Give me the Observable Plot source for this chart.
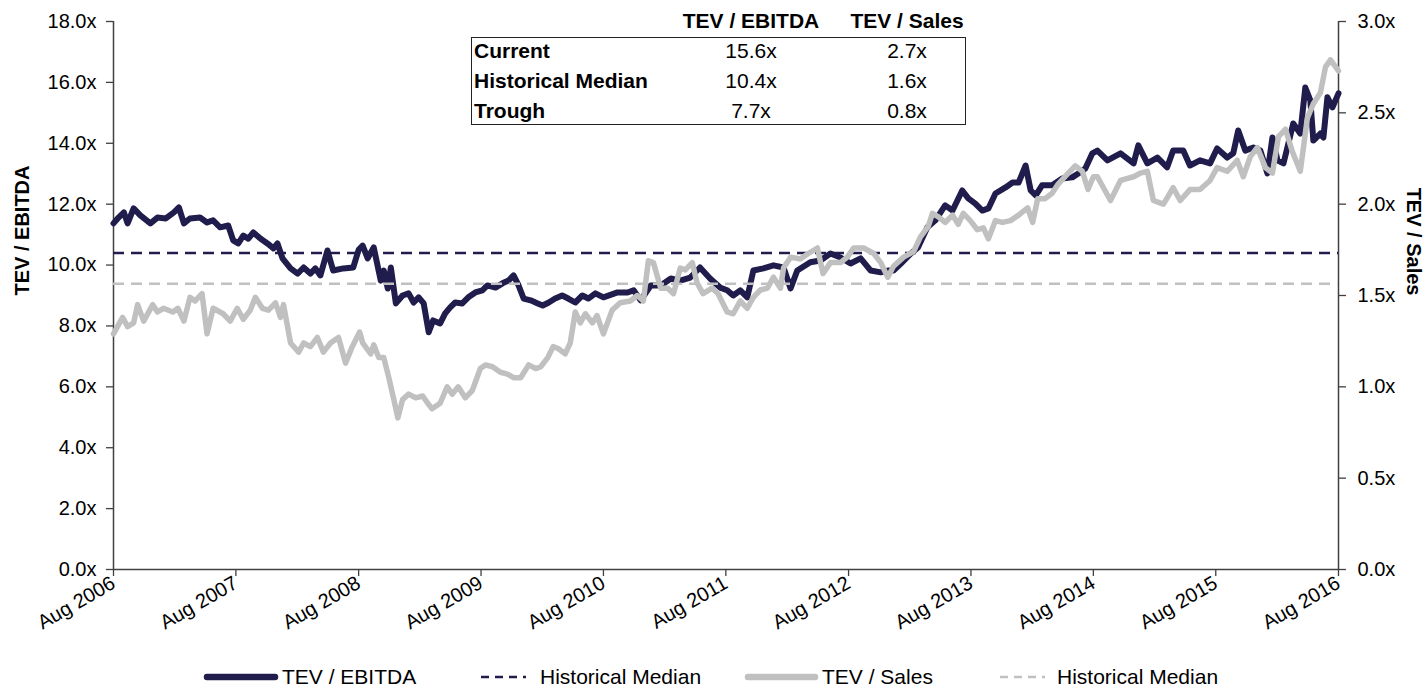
<!DOCTYPE html>
<html><head><meta charset="utf-8">
<script src="https://cdn.jsdelivr.net/npm/d3@7"></script>
<script src="https://cdn.jsdelivr.net/npm/@observablehq/plot@0.6"></script>
<style>
body{margin:0;background:#fff;font-family:"Liberation Sans",Arial,sans-serif;}
#wrap{position:relative;width:1428px;height:688px;overflow:hidden;}
.abs{position:absolute;white-space:nowrap;color:#000;}
.tbl{font-size:21px;line-height:24px;}
.leg{font-size:21px;line-height:24px;}
</style></head><body><div id="wrap"></div>
<script>
const ebitda = [
["2006-08-01",11.37],["2006-08-16",11.56],["2006-09-01",11.73],["2006-09-12",11.37],["2006-09-30",11.86],["2006-10-20",11.63],
["2006-11-19",11.37],["2006-12-10",11.56],["2007-01-04",11.53],["2007-01-28",11.73],["2007-02-12",11.89],["2007-02-27",11.37],
["2007-03-17",11.53],["2007-04-16",11.56],["2007-05-07",11.40],["2007-05-25",11.47],["2007-06-15",11.24],["2007-07-09",11.30],
["2007-07-24",10.81],["2007-08-08",10.71],["2007-08-23",10.97],["2007-09-07",10.87],["2007-09-22",11.07],["2007-10-13",10.87],
["2007-11-03",10.71],["2007-11-21",10.55],["2007-12-03",10.71],["2007-12-18",10.22],["2008-01-11",9.89],["2008-02-01",9.72],
["2008-02-19",9.92],["2008-03-10",9.72],["2008-03-25",9.89],["2008-04-09",9.66],["2008-04-30",10.48],["2008-05-17",9.82],
["2008-06-16",9.89],["2008-07-16",9.92],["2008-08-01",10.50],["2008-08-13",10.64],["2008-08-28",10.22],["2008-09-15",10.58],
["2008-10-06",9.49],["2008-10-15",9.82],["2008-10-27",9.23],["2008-11-05",9.92],["2008-11-20",8.74],["2008-12-10",9.00],
["2008-12-28",9.07],["2009-01-12",8.77],["2009-01-27",8.94],["2009-02-11",8.74],["2009-02-26",7.79],["2009-03-11",8.18],
["2009-04-01",8.08],["2009-04-16",8.41],["2009-05-01",8.61],["2009-05-16",8.77],["2009-06-06",8.74],["2009-06-24",8.94],
["2009-07-15",9.10],["2009-08-05",9.17],["2009-08-20",9.33],["2009-09-13",9.26],["2009-10-04",9.40],["2009-10-22",9.49],
["2009-11-06",9.66],["2009-11-21",9.33],["2009-12-06",8.90],["2009-12-27",8.84],["2010-01-17",8.74],["2010-02-01",8.67],
["2010-02-19",8.77],["2010-03-10",8.90],["2010-03-31",9.00],["2010-04-18",8.90],["2010-05-09",8.77],["2010-05-30",9.00],
["2010-06-17",8.90],["2010-07-08",9.07],["2010-08-01",8.94],["2010-09-12",9.10],["2010-10-12",9.10],["2010-10-30",9.17],
["2010-11-20",8.84],["2010-12-20",9.33],["2011-01-19",9.33],["2011-02-18",9.56],["2011-03-18",9.49],["2011-04-17",9.59],
["2011-05-16",9.92],["2011-06-15",9.56],["2011-07-15",9.26],["2011-08-05",9.17],["2011-08-23",9.00],["2011-09-13",9.17],
["2011-10-04",8.94],["2011-10-22",9.82],["2011-11-21",9.89],["2011-12-21",9.99],["2012-01-20",9.92],["2012-02-10",9.23],
["2012-03-01",9.82],["2012-04-09",10.09],["2012-05-09",10.15],["2012-06-08",10.38],["2012-07-08",10.25],["2012-08-07",10.05],
["2012-09-06",10.22],["2012-10-06",9.82],["2012-11-05",9.76],["2012-11-26",9.82],["2012-12-13",9.82],["2013-01-04",10.05],
["2013-02-03",10.38],["2013-02-24",10.58],["2013-03-24",11.24],["2013-04-17",11.47],["2013-05-16",11.96],["2013-06-07",11.79],
["2013-07-06",12.45],["2013-07-24",12.19],["2013-08-14",12.02],["2013-09-04",11.79],["2013-09-22",11.86],["2013-10-13",12.35],
["2013-11-12",12.55],["2013-12-03",12.71],["2013-12-21",12.71],["2014-01-11",13.27],["2014-01-26",12.45],["2014-02-10",12.29],
["2014-03-01",12.62],["2014-03-31",12.62],["2014-04-30",12.84],["2014-05-30",12.88],["2014-06-17",13.01],["2014-07-08",13.17],
["2014-07-29",13.67],["2014-08-13",13.76],["2014-09-12",13.44],["2014-10-21",13.67],["2014-11-29",13.34],["2014-12-13",13.93],
["2015-01-09",13.34],["2015-02-08",13.53],["2015-03-09",13.21],["2015-03-27",13.76],["2015-04-26",13.76],["2015-05-16",13.27],
["2015-06-15",13.44],["2015-07-15",13.34],["2015-08-05",13.83],["2015-09-04",13.53],["2015-09-22",13.67],["2015-10-07",14.42],
["2015-10-28",13.76],["2015-11-21",13.86],["2015-12-12",13.76],["2016-01-02",13.01],["2016-01-17",14.19],["2016-02-01",13.44],
["2016-02-19",13.34],["2016-03-19",14.65],["2016-04-09",14.32],["2016-04-24",15.83],["2016-05-09",15.41],["2016-05-18",14.09],
["2016-06-08",14.32],["2016-06-17",14.19],["2016-06-29",15.51],["2016-07-14",15.18],["2016-08-01",15.64]
];
const sales = [
["2006-08-01",1.29],["2006-08-28",1.38],["2006-09-12",1.33],["2006-09-30",1.35],["2006-10-12",1.45],["2006-10-30",1.36],
["2006-11-26",1.45],["2006-12-10",1.41],["2006-12-28",1.43],["2007-01-25",1.41],["2007-02-09",1.43],["2007-02-27",1.36],
["2007-03-17",1.49],["2007-04-01",1.47],["2007-04-22",1.51],["2007-05-07",1.29],["2007-05-25",1.43],["2007-06-24",1.40],
["2007-07-15",1.36],["2007-08-05",1.43],["2007-08-23",1.37],["2007-09-13",1.42],["2007-09-28",1.49],["2007-10-19",1.43],
["2007-11-06",1.42],["2007-11-27",1.46],["2007-12-12",1.38],["2007-12-21",1.45],["2008-01-11",1.24],["2008-02-04",1.19],
["2008-02-19",1.24],["2008-03-10",1.22],["2008-03-31",1.27],["2008-04-18",1.19],["2008-05-09",1.24],["2008-06-02",1.27],
["2008-06-23",1.13],["2008-07-13",1.22],["2008-08-04",1.30],["2008-08-13",1.24],["2008-09-06",1.18],["2008-09-15",1.23],
["2008-09-30",1.16],["2008-10-15",1.16],["2008-10-30",1.05],["2008-11-14",0.93],["2008-11-26",0.83],["2008-12-10",0.93],
["2008-12-28",0.96],["2009-01-18",0.94],["2009-02-08",0.95],["2009-02-23",0.91],["2009-03-08",0.88],["2009-04-01",0.91],
["2009-04-22",1.00],["2009-05-07",0.96],["2009-05-25",1.00],["2009-06-15",0.94],["2009-07-06",0.98],["2009-07-30",1.10],
["2009-08-14",1.12],["2009-09-04",1.11],["2009-09-28",1.08],["2009-10-19",1.07],["2009-11-06",1.05],["2009-11-27",1.05],
["2009-12-21",1.12],["2010-01-11",1.10],["2010-01-26",1.11],["2010-02-16",1.16],["2010-03-04",1.22],["2010-03-19",1.21],
["2010-04-09",1.18],["2010-04-24",1.24],["2010-05-09",1.41],["2010-05-24",1.35],["2010-06-08",1.40],["2010-06-29",1.35],
["2010-07-13",1.39],["2010-08-01",1.29],["2010-08-27",1.42],["2010-09-20",1.46],["2010-10-20",1.47],["2010-11-10",1.50],
["2010-11-28",1.47],["2010-12-13",1.69],["2010-12-28",1.68],["2011-01-19",1.54],["2011-02-09",1.54],["2011-02-26",1.51],
["2011-03-18",1.65],["2011-04-02",1.64],["2011-04-23",1.68],["2011-05-07",1.57],["2011-05-25",1.51],["2011-06-21",1.54],
["2011-07-09",1.51],["2011-08-05",1.41],["2011-08-23",1.40],["2011-09-13",1.47],["2011-10-04",1.43],["2011-10-22",1.49],
["2011-11-12",1.53],["2011-12-03",1.54],["2011-12-21",1.60],["2012-01-11",1.54],["2012-01-20",1.65],["2012-02-10",1.71],
["2012-03-10",1.70],["2012-04-03",1.73],["2012-04-30",1.76],["2012-05-17",1.62],["2012-06-08",1.68],["2012-07-08",1.68],
["2012-07-28",1.71],["2012-08-16",1.76],["2012-09-15",1.76],["2012-10-15",1.73],["2012-11-05",1.68],["2012-11-26",1.60],
["2012-12-13",1.66],["2013-01-12",1.71],["2013-02-11",1.74],["2013-03-03",1.82],["2013-03-27",1.88],["2013-04-08",1.95],
["2013-04-26",1.93],["2013-05-16",1.90],["2013-06-07",1.94],["2013-06-24",1.89],["2013-07-09",1.95],["2013-07-30",1.91],
["2013-08-20",1.86],["2013-09-07",1.87],["2013-09-22",1.81],["2013-10-13",1.91],["2013-11-03",1.90],["2013-11-27",1.91],
["2013-12-21",1.94],["2014-01-17",1.98],["2014-02-01",1.90],["2014-02-16",2.03],["2014-03-10",2.03],["2014-03-31",2.06],
["2014-04-18",2.11],["2014-05-18",2.17],["2014-06-08",2.21],["2014-06-29",2.18],["2014-07-16",2.08],["2014-08-01",2.15],
["2014-08-13",2.15],["2014-09-21",2.02],["2014-10-21",2.13],["2014-11-29",2.15],["2014-12-19",2.17],["2015-01-09",2.18],
["2015-01-27",2.02],["2015-02-26",2.00],["2015-03-27",2.09],["2015-04-17",2.02],["2015-05-16",2.08],["2015-06-15",2.08],
["2015-07-15",2.13],["2015-08-05",2.20],["2015-09-04",2.18],["2015-10-04",2.24],["2015-10-22",2.15],["2015-11-12",2.26],
["2015-12-03",2.31],["2015-12-27",2.20],["2016-01-17",2.17],["2016-02-04",2.37],["2016-02-25",2.41],["2016-03-16",2.29],
["2016-04-09",2.18],["2016-04-30",2.47],["2016-05-18",2.55],["2016-06-08",2.61],["2016-06-23",2.75],["2016-07-08",2.79],
["2016-08-01",2.73]
];
const ebitdaMedian = 10.4;
const salesMedian = 1.565;
const tableHeader = ["TEV / EBITDA", "TEV / Sales"];
const tableRows = ["Current", "Historical Median", "Trough"];
const tableEbitda = ["15.6x", "10.4x", "7.7x"];
const tableSales = ["2.7x", "1.6x", "0.8x"];
const xTicks = ["2006-08-01","2007-08-01","2008-08-01","2009-08-01","2010-08-01","2011-08-01","2012-08-01","2013-08-01","2014-08-01","2015-08-01","2016-08-01"];
const yTicksLeft = [0,2,4,6,8,10,12,14,16,18];
const yTicksRight = [0,0.5,1.0,1.5,2.0,2.5,3.0];
const legendLabels = ["TEV / EBITDA", "Historical Median", "TEV / Sales", "Historical Median"];

const DARK = "#201c4c", LIGHT = "#c0c0c0", AXIS = "#404040";
const ratio = 18 / 3;
const parse = d3.utcParse("%Y-%m-%d");
const dark = ebitda.map(([d, v]) => ({date: parse(d), v}));
const light = sales.map(([d, v]) => ({date: parse(d), v: v * ratio}));
const xDom = [parse(xTicks[0]), parse(xTicks[xTicks.length - 1])];

const W = 1428, H = 658;
const chart = Plot.plot({
  width: W, height: H,
  marginLeft: 113, marginRight: 90, marginTop: 21, marginBottom: 89,
  style: {fontFamily: '"Liberation Sans", Arial, sans-serif', fontSize: "20px", color: "#000", background: "transparent", overflow: "visible"},
  x: {type: "utc", domain: xDom},
  y: {domain: [0, 18]},
  marks: [
    Plot.ruleY([0], {stroke: AXIS, strokeWidth: 1.5}),
    Plot.ruleX(xDom, {y1: 0, y2: 18, stroke: AXIS, strokeWidth: 1.5}),
    Plot.axisY(yTicksLeft, {anchor: "left", tickFormat: d => d.toFixed(1) + "x", tickSize: 7, tickPadding: 10, label: null, stroke: AXIS, strokeWidth: 1.3, fontSize: 20}),
    Plot.axisY(yTicksRight.map(v => v * ratio), {anchor: "right", tickFormat: d => (d / ratio).toFixed(1) + "x", tickSize: 7, tickPadding: 12, label: null, stroke: AXIS, strokeWidth: 1.3, fontSize: 20}),
    Plot.axisX(xTicks.map(parse), {anchor: "bottom", tickFormat: d3.utcFormat("%b %Y"), tickRotate: -30, tickSize: 7, tickPadding: 5, label: null, stroke: AXIS, strokeWidth: 1.3, fontSize: 20}),
    Plot.line(dark, {x: "date", y: "v", stroke: DARK, strokeWidth: 6, strokeLinejoin: "round", strokeLinecap: "round"}),
    Plot.ruleY([ebitdaMedian], {stroke: DARK, strokeWidth: 2.5, strokeDasharray: "11,7"}),
    Plot.line(light, {x: "date", y: "v", stroke: LIGHT, strokeWidth: 5.5, strokeLinejoin: "round", strokeLinecap: "round"}),
    Plot.ruleY([salesMedian * ratio], {stroke: LIGHT, strokeWidth: 2.5, strokeDasharray: "11,7"}),
    Plot.text(["TEV / EBITDA"], {frameAnchor: "left", dx: -91, rotate: -90, fontWeight: "bold", fontSize: 20}),
    Plot.text(["TEV / Sales"], {frameAnchor: "right", dx: 75, rotate: 90, fontWeight: "bold", fontSize: 20})
  ]
});
const wrap = document.getElementById("wrap");
wrap.appendChild(chart);

// Summary table overlay
function addText(txt, x, y, anchor, cls, bold) {
  const el = document.createElement("div");
  el.className = "abs " + cls;
  el.textContent = txt;
  el.style.top = (y - 12) + "px";
  if (anchor === "middle") { el.style.left = (x - 200) + "px"; el.style.width = "400px"; el.style.textAlign = "center"; }
  else { el.style.left = x + "px"; }
  if (bold) el.style.fontWeight = "bold";
  wrap.appendChild(el);
  return el;
}
const box = document.createElement("div");
box.style.cssText = "position:absolute;left:471px;top:37px;width:495px;height:88px;border:1.5px solid #222;box-sizing:border-box;";
wrap.appendChild(box);
const colX = [751, 907];
tableHeader.forEach((h, i) => addText(h, colX[i], 21, "middle", "tbl", true));
tableRows.forEach((r, i) => {
  const y = 51 + i * 30;
  addText(r, 474, y, "start", "tbl", true);
  addText(tableEbitda[i], colX[0], y, "middle", "tbl", false);
  addText(tableSales[i], colX[1], y, "middle", "tbl", false);
});

// Legend
const legY = 677;
const legSpec = [
  {x1: 207, x2: 275, tx: 282, color: DARK, w: 6.5, dash: null},
  {x1: 481, x2: 526, tx: 540, color: DARK, w: 2.5, dash: "8,6"},
  {x1: 748, x2: 815, tx: 822, color: LIGHT, w: 6.5, dash: null},
  {x1: 1000, x2: 1045, tx: 1057, color: LIGHT, w: 2.5, dash: "8,6"}
];
const ns = "http://www.w3.org/2000/svg";
const lsvg = document.createElementNS(ns, "svg");
lsvg.setAttribute("width", W); lsvg.setAttribute("height", 688);
lsvg.style.cssText = "position:absolute;left:0;top:0;pointer-events:none;";
legSpec.forEach((s, i) => {
  const ln = document.createElementNS(ns, "line");
  ln.setAttribute("x1", s.x1); ln.setAttribute("x2", s.x2);
  ln.setAttribute("y1", legY); ln.setAttribute("y2", legY);
  ln.setAttribute("stroke", s.color); ln.setAttribute("stroke-width", s.w);
  if (s.dash) ln.setAttribute("stroke-dasharray", s.dash); else ln.setAttribute("stroke-linecap", "round");
  lsvg.appendChild(ln);
  addText(legendLabels[i], s.tx, legY, "start", "leg", false);
});
wrap.appendChild(lsvg);
</script></body></html>
